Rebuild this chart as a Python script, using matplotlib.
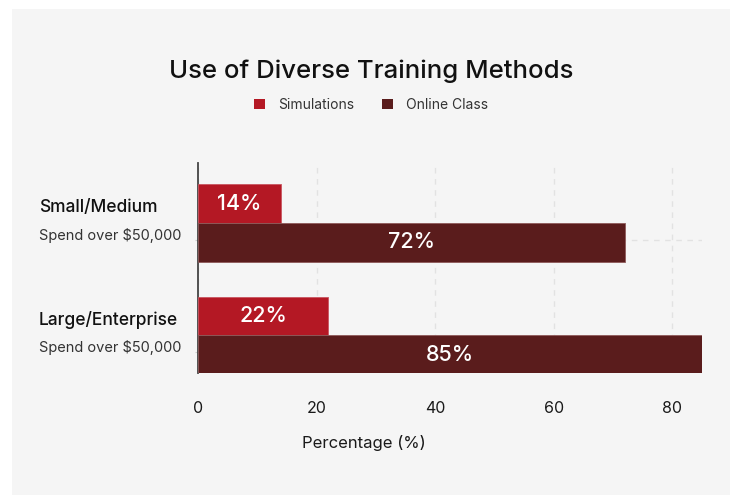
import matplotlib
matplotlib.use("Agg")
import matplotlib.pyplot as plt
from matplotlib.patches import Rectangle, Patch
from matplotlib.transforms import blended_transform_factory

# Data
categories = ["Small/Medium", "Large/Enterprise"]
subtitles = ["Spend over $50,000", "Spend over $50,000"]
series_names = ["Simulations", "Online Class"]
simulations = [14, 22]
online_class = [72, 85]
x_ticks = [0, 20, 40, 60, 80]

colors = ["#B41824", "#5A1C1C"]
W, H = 733, 496

plt.rcParams["font.family"] = ["Inter", "DejaVu Sans"]

fig = plt.figure(figsize=(W / 100, H / 100), dpi=100)
fig.patch.set_facecolor("white")

# light panel behind everything
fig.patches.append(Rectangle((12 / W, 1 - 495 / H), (730 - 12) / W, (495 - 9) / H,
                             transform=fig.transFigure, facecolor="#F5F5F5",
                             edgecolor="none", zorder=-10))

ax_left, ax_right, ax_top, ax_bot = 198, 702, 163, 373
ax = fig.add_axes([ax_left / W, 1 - ax_bot / H, (ax_right - ax_left) / W, (ax_bot - ax_top) / H])
ax.set_facecolor("none")
ax.set_zorder(1)

bar_h = 0.343
sim_off = -0.325
onl_off = 0.02
ypos = list(range(len(categories)))

ax.barh([y + sim_off for y in ypos], simulations, height=bar_h, color=colors[0],
        edgecolor="#C95560", linewidth=0.6, zorder=3)
ax.barh([y + onl_off for y in ypos], online_class, height=bar_h, color=colors[1],
        edgecolor="#8E5A5A", linewidth=0.6, zorder=3)

for y, v in zip(ypos, simulations):
    ax.text(v / 2, y + sim_off, f"{v}%", ha="center", va="center", color="white",
            fontsize=15.5, fontweight="medium", zorder=4)
for y, v in zip(ypos, online_class):
    ax.text(v / 2, y + onl_off, f"{v}%", ha="center", va="center", color="white",
            fontsize=15.5, fontweight="medium", zorder=4)

ax.set_xlim(0, 85)
ax.set_ylim(1.184, -0.686)

ax.set_xticks(x_ticks)
ax.set_xticklabels([str(t) for t in x_ticks], fontsize=11.5, color="#1a1a1a")
ax.tick_params(axis="x", length=0, pad=20)
ax.set_yticks(ypos)
ax.set_yticklabels([])
ax.tick_params(axis="y", length=2, color="#cccccc")

ax.grid(True, axis="both", linestyle=(0, (4, 4)), color="#E2E2E2", linewidth=1, zorder=0)
ax.set_axisbelow(True)

for s in ["top", "right", "bottom"]:
    ax.spines[s].set_visible(False)
ax.spines["left"].set_color("#444444")
ax.spines["left"].set_linewidth(1.3)

# category labels on two lines
lbl_tr = blended_transform_factory(fig.transFigure, ax.transData)
for y, name, sub in zip(ypos, categories, subtitles):
    ax.text(39 / W, y - 0.29, name, transform=lbl_tr, ha="left", va="center",
            fontsize=12.5, fontweight="medium", color="#111111")
    ax.text(39 / W, y - 0.04, sub, transform=lbl_tr, ha="left", va="center",
            fontsize=10.5, color="#333333")

fig.text(364 / W, 1 - 443 / H, "Percentage (%)", ha="center", va="center",
         fontsize=12, color="#1a1a1a")

fig.text(371 / W, 1 - 71 / H, "Use of Diverse Training Methods", ha="center", va="center",
         fontsize=18.5, fontweight="medium", color="#111111")

handles = [Patch(facecolor=c, edgecolor="none") for c in colors]
fig.legend(handles, series_names, loc="center", bbox_to_anchor=(371 / W, 1 - 105 / H),
           ncol=2, frameon=False, fontsize=10, handlelength=0.8, handleheight=0.8,
           handletextpad=0.9, columnspacing=2.0, labelcolor="#333333")

fig.savefig("out.png", dpi=100, facecolor=fig.get_facecolor())
